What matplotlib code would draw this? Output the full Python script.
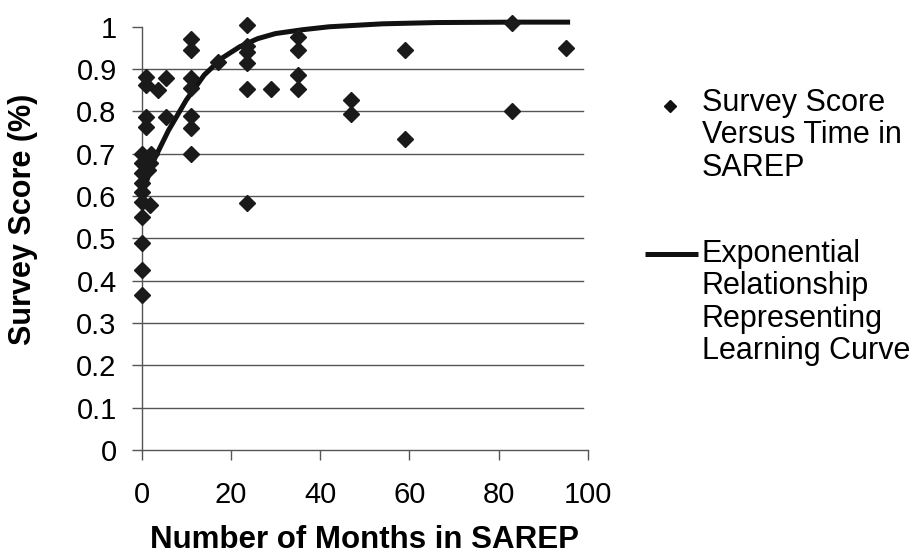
import matplotlib
matplotlib.use("Agg")
import matplotlib.pyplot as plt
from matplotlib.lines import Line2D

plt.rcParams['font.family'] = ['Liberation Sans', 'DejaVu Sans']

# Survey scores, grouped by months in SAREP
months = [0, 0, 0, 0, 0, 0, 0, 0, 0, 0,
          1, 1, 1, 1, 1.9, 2.2, 1.5, 1.9,
          3.6, 5.5, 5.5,
          11, 11, 11, 11, 11, 11, 11,
          17,
          23.5, 23.5, 23.5, 23.5, 23.5, 23.5,
          29,
          35, 35, 35, 35,
          47, 47,
          59, 59,
          83, 83,
          95]
scores = [0.70, 0.677, 0.654, 0.63, 0.61, 0.587, 0.55, 0.488, 0.425, 0.366,
          0.882, 0.862, 0.787, 0.764, 0.677, 0.70, 0.661, 0.579,
          0.85, 0.88, 0.787,
          0.97, 0.945, 0.88, 0.856, 0.79, 0.76, 0.70,
          0.917,
          1.004, 0.955, 0.94, 0.914, 0.854, 0.583,
          0.854,
          0.976, 0.945, 0.886, 0.854,
          0.826, 0.795,
          0.944, 0.736,
          1.01, 0.80,
          0.95]

# learning curve
curve_x = [0, 2.5, 6, 10, 14, 18, 22, 26, 30, 36, 42, 54, 66, 84, 96]
curve_y = [0.60, 0.68, 0.755, 0.827, 0.886, 0.926, 0.953, 0.972, 0.984, 0.993,
           1.0, 1.007, 1.01, 1.011, 1.011]

y_ticks = [0, 0.1, 0.2, 0.3, 0.4, 0.5, 0.6, 0.7, 0.8, 0.9, 1]
y_tick_labels = ["0", "0.1", "0.2", "0.3", "0.4", "0.5", "0.6", "0.7", "0.8", "0.9", "1"]
x_ticks = [0, 20, 40, 60, 80, 100]

fig = plt.figure(figsize=(9.23, 5.58), dpi=100)
ax = fig.add_axes([0.1535, 0.1935, 0.4835, 0.7585])

ax.plot(curve_x, curve_y, color='#111111', lw=3.6, solid_capstyle='butt',
        clip_on=False, zorder=3)
ax.plot(months, scores, linestyle='none', marker='D', ms=8.3,
        color='#1a1a1a', clip_on=False, zorder=4)

ax.set_xlim(0, 100)
ax.set_ylim(0, 1)
ax.set_xticks(x_ticks)
ax.set_yticks(y_ticks)
ax.set_yticklabels(y_tick_labels)

# horizontal gridlines, none at the top
for yv in y_ticks[1:-1]:
    ax.axhline(yv, xmax=0.99, color='#555555', lw=1.0, zorder=1)

for s in ['top', 'right']:
    ax.spines[s].set_visible(False)
for s in ['left', 'bottom']:
    ax.spines[s].set_color('#555555')
    ax.spines[s].set_linewidth(1.0)

ax.tick_params(axis='y', direction='out', length=7, width=1, color='#555555',
               labelsize=21, pad=11)
ax.tick_params(axis='x', direction='out', length=7, width=1, color='#555555',
               labelsize=21, pad=15)

fig.text(0.025, 0.606, "Survey Score (%)", rotation=90, fontsize=22,
         fontweight='bold', ha='center', va='center')
fig.text(0.395, 0.032, "Number of Months in SAREP", fontsize=22.5,
         fontweight='bold', ha='center', va='center')

# legend drawn by hand so the symbols sit on the first line
fig.add_artist(Line2D([670 / 923], [1 - 106 / 558], marker='D', ms=6.5,
                      color='#111111', linestyle='none',
                      transform=fig.transFigure))
fig.add_artist(Line2D([645 / 923, 698 / 923], [1 - 254 / 558, 1 - 254 / 558],
                      color='#111111', lw=3.6, solid_capstyle='butt',
                      transform=fig.transFigure))
fig.text(702 / 923, 1 - 88 / 558, "Survey Score\nVersus Time in\nSAREP",
         fontsize=22, ha='left', va='top', linespacing=1.1)
fig.text(702 / 923, 1 - 239 / 558,
         "Exponential\nRelationship\nRepresenting\nLearning Curve",
         fontsize=22, ha='left', va='top', linespacing=1.1)

fig.savefig("out.png", dpi=100)
